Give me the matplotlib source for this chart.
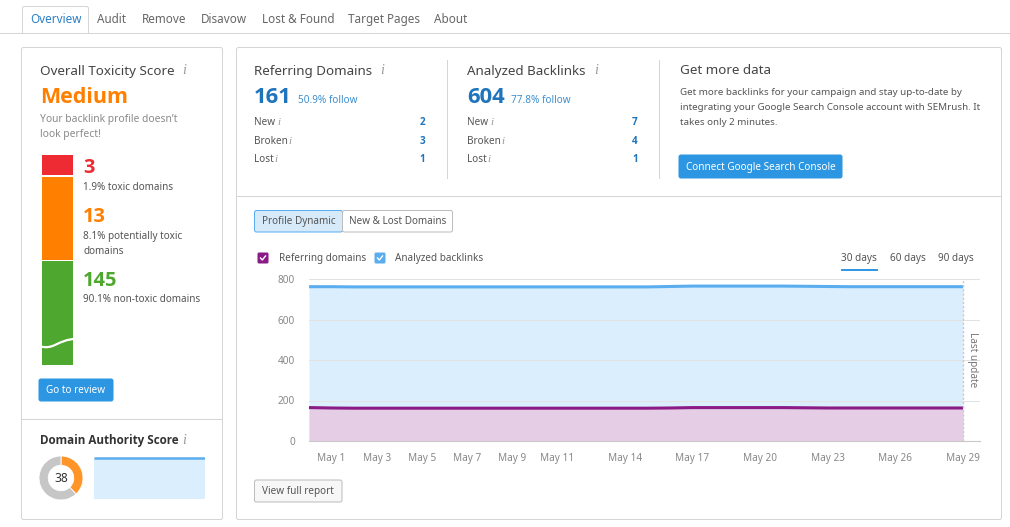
import matplotlib
matplotlib.use('Agg')
import matplotlib.pyplot as plt
from matplotlib.patches import FancyBboxPatch, Rectangle, PathPatch
from matplotlib.path import Path

plt.rcParams['font.family'] = ['Noto Sans', 'DejaVu Sans']

W, H = 1010, 527

# chart data
days = list(range(0, 30))
backlinks = [762, 762, 761, 761, 761, 761, 761, 761, 761, 761, 761, 761, 761, 761, 761,
             761, 763, 765, 765, 765, 765, 765, 764, 763, 762, 762, 762, 762, 762, 762]
domains = [165, 163, 162, 162, 162, 162, 162, 162, 162, 162, 162, 162, 162, 162, 162,
           162, 163, 165, 165, 165, 165, 165, 164, 163, 163, 163, 163, 163, 163, 163]
tick_days = [1, 3, 5, 7, 9, 11, 14, 17, 20, 23, 26, 29]
tick_labels = ['May 1', 'May 3', 'May 5', 'May 7', 'May 9', 'May 11',
               'May 14', 'May 17', 'May 20', 'May 23', 'May 26', 'May 29']
y_ticks = [0, 200, 400, 600, 800]

# mini chart and donut
authority_trend = [38, 38, 38, 38, 38, 38]
authority_score = [38, 62]

tabs = ['Overview', 'Audit', 'Remove', 'Disavow', 'Lost & Found', 'Target Pages', 'About']
tab_x = [30, 97, 142, 201, 262, 348, 434]

GREY = '#555555'
LIGHT = '#8a8a8a'
BLUE = '#1f74bb'
ORANGE = '#ff8000'
RED = '#ee2b33'
GREEN = '#4ea72e'
BTN = '#2d96e3'
LINE = 0.72


def px(size):
    return size * 0.72


def label(x, y, s, size=10.5, color=GREY, weight='normal', ha='left', **kw):
    # the static bold comes from Open Sans, Noto Sans here only has regular
    if weight == 'bold':
        kw['family'] = 'Open Sans'
    return bg.text(x, y + 1.2, s, fontsize=px(size), color=color, fontweight=weight,
                   ha=ha, va='center', **kw)


def box(x0, y0, x1, y1, fc='white', ec='#d5d5d5', lw=LINE, r=2, z=1):
    p = FancyBboxPatch((x0, y0), x1 - x0, y1 - y0, boxstyle=f'round,pad=0,rounding_size={r}',
                       fc=fc, ec=ec, lw=lw, zorder=z)
    bg.add_patch(p)


def info(x, y, size=14):
    bg.text(x, y + 1, 'i', fontsize=px(size), color='#999999', style='italic',
            family='Liberation Serif', ha='center', va='center')


def check(x, y, color):
    box(x - 5, y - 5, x + 5, y + 5, fc=color, ec=color, r=1, z=2)
    bg.plot([x - 2.5, x - 0.7, x + 2.5], [y, y + 2, y - 2], color='white', lw=1.0, zorder=3)


fig = plt.figure(figsize=(W / 100, H / 100), dpi=100)
bg = fig.add_axes([0, 0, 1, 1])
bg.set_xlim(0, W)
bg.set_ylim(H, 0)
bg.axis('off')

# tab strip
bg.plot([0, W], [32.5, 32.5], color='#d5d5d5', lw=LINE)
box(22.5, 6.5, 88.5, 40, ec='#d5d5d5', r=2)
bg.add_patch(Rectangle((20, 33), 72, 10, fc='white', ec='none', zorder=1.5))
for i, (name, x) in enumerate(zip(tabs, tab_x)):
    label(x, 18.5, name, size=11.7, color='#2a7fc4' if i == 0 else '#666666', zorder=3)

# panels
box(21.5, 47.5, 222.5, 519.5)
box(236.5, 47.5, 1001.5, 519.5)
bg.plot([22, 222], [418.5, 418.5], color='#d5d5d5', lw=LINE, zorder=2)
bg.plot([237, 1001], [195.5, 195.5], color='#d5d5d5', lw=LINE, zorder=2)
bg.plot([446.5, 446.5], [60, 178], color='#d5d5d5', lw=LINE, zorder=2)
bg.plot([658.5, 658.5], [60, 178], color='#d5d5d5', lw=LINE, zorder=2)

# toxicity panel
label(40, 70, 'Overall Toxicity Score', size=13.4, color='#444444')
info(184, 70)
label(40, 96, 'Medium', size=21.5, color=ORANGE, weight='bold')
label(40, 118, 'Your backlink profile doesn\u2019t', size=10.3, color=LIGHT)
label(40, 133, 'look perfect!', size=10.3, color=LIGHT)

bg.add_patch(Rectangle((42, 155), 31, 20, fc=RED, ec='none', zorder=2))
bg.add_patch(Rectangle((42, 177), 31, 83, fc=ORANGE, ec='none', zorder=2))
bg.add_patch(Rectangle((42, 261), 31, 104, fc=GREEN, ec='none', zorder=2))
# break mark on the green segment
wave = Path([(39, 346), (54, 351), (58, 339), (76, 339)],
            [Path.MOVETO, Path.CURVE4, Path.CURVE4, Path.CURVE4])
bg.add_patch(PathPatch(wave, fc='none', ec='white', lw=1.6, zorder=3))

label(83, 167, '3', size=20, color=RED, weight='bold')
label(83, 186, '1.9% toxic domains', size=9.9)
label(83, 216, '13', size=20, color=ORANGE, weight='bold')
label(83, 235, '8.1% potentially toxic', size=9.9)
label(83, 250, 'domains', size=9.9)
label(83, 280, '145', size=20, color=GREEN, weight='bold')
label(83, 298.5, '90.1% non-toxic domains', size=9.9)

box(39, 379, 113, 401, fc=BTN, ec=BTN, r=2, z=2)
label(76, 389.5, 'Go to review', size=10, color='white', ha='center', zorder=3)

# domain authority
label(40, 439, 'Domain Authority Score', size=11.6, color='#333333', weight='bold')
info(184, 440)
donut = fig.add_axes([39 / W, 1 - 500 / H, 44 / W, 44 / H])
donut.pie(authority_score, colors=['#ff9428', '#c6c6c6'], startangle=90, counterclock=False,
          radius=1.0, wedgeprops={'width': 0.42, 'edgecolor': 'white', 'linewidth': 0.6})
donut.set_xlim(-1, 1)
donut.set_ylim(-1, 1)
donut.text(0, -0.02, '38', fontsize=px(12), color='#333333', ha='center', va='center')

mini = fig.add_axes([94 / W, 1 - 499 / H, 111 / W, 42 / H])
mini.fill_between(range(len(authority_trend)), authority_trend, color='#dbeefd', lw=0)
mini.plot(range(len(authority_trend)), authority_trend, color='#5aaef0', lw=1.8, solid_capstyle='butt')
mini.set_xlim(0, len(authority_trend) - 1)
mini.set_ylim(0, 38.6)
mini.axis('off')

# summary columns
for x, title, icon_x, big, follow, follow_x, vals, vx in [
        (254, 'Referring Domains', 382, '161', '50.9% follow', 298, [2, 3, 1], 425),
        (467, 'Analyzed Backlinks', 596, '604', '77.8% follow', 511, [7, 4, 1], 638)]:
    label(x, 70, title, size=13.4, color='#444444')
    info(icon_x, 70)
    label(x, 96, big, size=22, color=BLUE, weight='bold')
    label(follow_x, 99.5, follow, size=10, color='#3d8fd0')
    for name, val, y, ix in zip(['New', 'Broken', 'Lost'], vals, [121.5, 140, 158.5], [25, 36, 22]):
        label(x, y, name, size=10)
        info(x + ix, y, size=11)
        label(vx, y, str(val), size=10, color=BLUE, weight='bold', ha='right')

# get more data
label(680, 69.5, 'Get more data', size=13.4, color='#444444')
label(680, 91, 'Get more backlinks for your campaign and stay up-to-date by', size=9.8)
label(680, 106, 'integrating your Google Search Console account with SEMrush. It', size=9.8)
label(680, 121.5, 'takes only 2 minutes.', size=9.8)
box(679, 155, 842, 178, fc=BTN, ec=BTN, r=2, z=2)
label(760.5, 166, 'Connect Google Search Console', size=10, color='white', ha='center', zorder=3)

# chart toggles
box(254.5, 210.5, 342.5, 232, fc='#d6eafa', ec='#5aaef0', r=2, z=2)
box(342.5, 210.5, 452.5, 232, fc='white', ec='#bdbdbd', r=2, z=2)
label(299, 220.5, 'Profile Dynamic', size=9.9, ha='center', zorder=3)
label(398, 220.5, 'New & Lost Domains', size=9.9, ha='center', zorder=3)

# legend
check(263, 258, '#8a1a86')
label(279, 257, 'Referring domains', size=9.9)
check(380, 258, '#5aaef0')
label(395, 257, 'Analyzed backlinks', size=9.9)
label(859, 257, '30 days', size=10, ha='center')
bg.plot([842, 877], [270, 270], color=BTN, lw=1.4)
label(908, 257, '60 days', size=10, ha='center')
label(956, 257, '90 days', size=10, ha='center')

# main chart, axes run past the last day so gridlines reach x=980
ax = fig.add_axes([309 / W, 1 - 441 / H, 671 / W, 162 / H])
ax.set_xlim(0, 29 * 671 / 654)
ax.set_ylim(0, 800)
ax.fill_between(days, backlinks, color='#dbeefd', lw=0, zorder=1)
ax.fill_between(days, domains, color='#e6cde6', lw=0, zorder=1.5)
ax.plot(days, backlinks, color='#5aaef0', lw=2.2, zorder=3, solid_capstyle='butt')
ax.plot(days, domains, color='#8a1a86', lw=2.2, zorder=3, solid_capstyle='butt')
ax.axvline(29, color='#c8c8c8', lw=1, ls=(0, (1.5, 1.5)), zorder=4)
ax.set_yticks(y_ticks)
ax.set_xticks(tick_days)
ax.set_xticklabels(tick_labels)
ax.tick_params(length=0, labelsize=px(10), labelcolor='#888888', pad=9)
ax.tick_params(axis='y', pad=10)
ax.grid(axis='y', color='#e2e2e2', lw=LINE, zorder=2)
ax.set_axisbelow(False)
ax.patch.set_alpha(0)
for s in ['top', 'right', 'left']:
    ax.spines[s].set_visible(False)
ax.spines['bottom'].set_color('#c8c8c8')
ax.text(29.4, 400, 'Last update', rotation=270, fontsize=px(10), color='#777777',
        ha='center', va='center')

box(254.5, 480, 342, 502, fc='#f7f7f7', ec='#bdbdbd', r=2, z=2)
label(298, 490, 'View full report', size=10, ha='center', zorder=3)

fig.savefig('out.png', dpi=100)
